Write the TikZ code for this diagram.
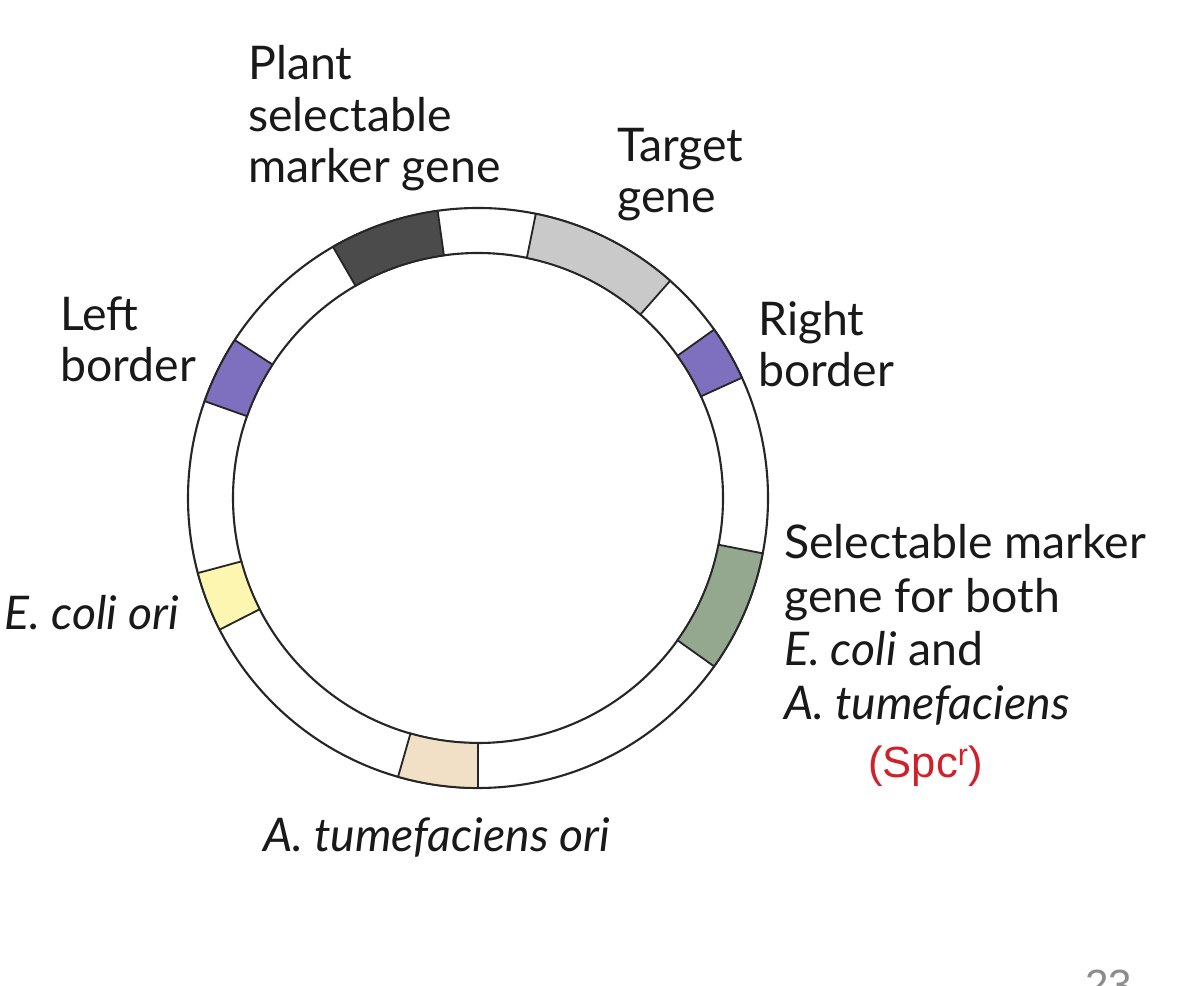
\documentclass[tikz,border=0pt]{standalone}
\usepackage{fontspec}
\setmainfont{Lato}
\newfontfamily\arialfont{Liberation Sans}
\usetikzlibrary{positioning}
\definecolor{plantc}{HTML}{4B4B4B}
\definecolor{targetc}{HTML}{C9C9C9}
\definecolor{borderc}{HTML}{7F70BF}
\definecolor{spcc}{HTML}{93A88E}
\definecolor{atoric}{HTML}{F1E0C6}
\definecolor{ecoric}{HTML}{FDF6B0}
\definecolor{redc}{HTML}{D0202A}
\tikzset{lb/.style={align=left,inner sep=0pt,font=\fontsize{33}{36.8}\selectfont,text=black!90},
 ring/.style={draw=black!85,line width=1.5pt},
 seg/.style={draw=black!85,line width=1.3pt}}
\begin{document}
\begin{tikzpicture}[x=0.025cm,y=0.025cm]
\useasboundingbox (0,0) rectangle (1200,985);
\fill[white](0,0) rectangle (1200,985);
\coordinate (c) at (478,487);
% plasmid ring
\draw[ring](c) circle[radius=290];\draw[ring](c) circle[radius=245];
\begin{scope}[shift={(c)}]
\foreach \a/\b/\f in {98/120/plantc,48.5/78.5/targetc,24.5/35.5/borderc,147/160.5/borderc,-35.5/-11/spcc,254/270/atoric,195/207/ecoric}
 \filldraw[seg,fill=\f](\a:245) arc[start angle=\a,end angle=\b,radius=245] -- (\b:290) arc[start angle=\b,end angle=\a,radius=290] -- cycle;
\end{scope}
% labels (base = last line)
\node[lb,anchor=base west](plant) at (248,802){Plant\\selectable\\marker gene};
\node[lb,anchor=base west](target) at (617,772){Target\\gene};
\node[lb,anchor=base west](lborder) at (60,603){Left\\border};
\node[lb,anchor=base west](rborder) at (758,598){Right\\border};
\node[lb,anchor=base west,font=\fontsize{33}{38.4}\selectfont](smark) at (784,265){Selectable marker\\gene for both\\\textit{E. coli} and\\\textit{A. tumefaciens}};
\node[lb,anchor=base west,text=redc,font=\arialfont\fontsize{31}{36}\selectfont](spc) at (868,207){(Spc\textsuperscript{r})};
\node[lb,anchor=base east,font=\fontsize{33}{36.8}\itshape](ecori) at (179,355){E. coli ori};
\node[lb,anchor=base west,font=\fontsize{33}{36.8}\itshape](atori) at (263,134){A. tumefaciens ori};
\node[lb,anchor=base west,text=black!45,font=\arialfont\fontsize{30}{36}\selectfont](pnum) at (1085,-14){23};
\end{tikzpicture}
\end{document}
